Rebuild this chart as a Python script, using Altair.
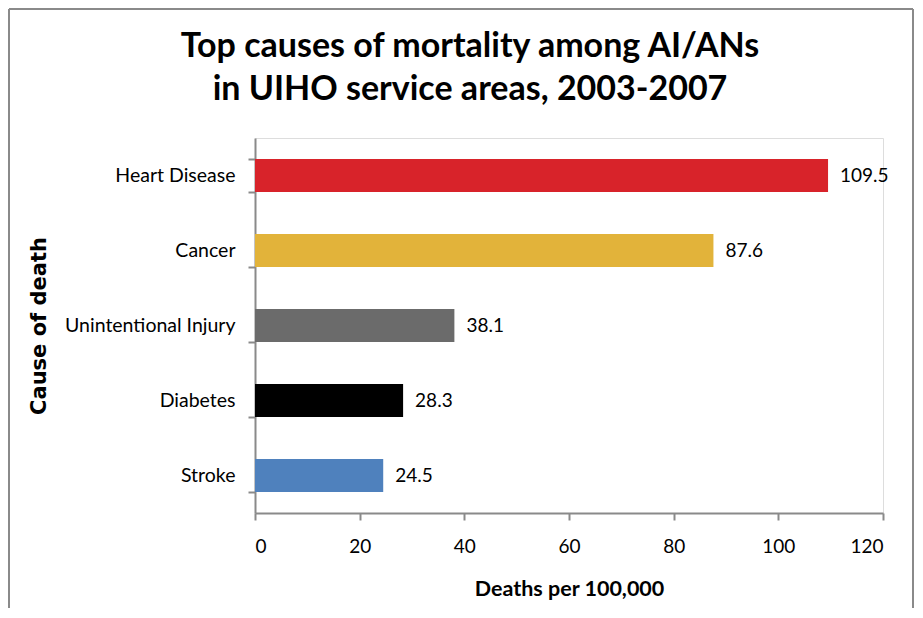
import altair as alt
import pandas as pd

causes = ["Heart Disease", "Cancer", "Unintentional Injury", "Diabetes", "Stroke"]
rates = [109.5, 87.6, 38.1, 28.3, 24.5]
colors = ["#d8232a", "#e2b33a", "#6b6b6b", "#000000", "#4f81bd"]
x_ticks = [0, 20, 40, 60, 80, 100, 120]
title_lines = ["Top causes of mortality among AI/ANs", "in UIHO service areas, 2003-2007"]

df = pd.DataFrame({"cause": causes, "rate": rates, "label": [f"{v:.1f}" for v in rates]})

FONT = "Lato"
GRAY = "#8a8a8a"

y_enc = alt.Y(
    "cause:N",
    sort=causes,
    scale=alt.Scale(paddingInner=0.56, paddingOuter=0.28),
    axis=alt.Axis(
        title="Cause of death",
        titleFont="DejaVu Sans",
        titleFontSize=21,
        titleFontWeight="bold",
        titleColor="#000",
        titlePadding=15,
        labelFont=FONT,
        labelFontSize=19.5,
        labelColor="#000",
        labelPadding=13,
        tickBand="extent",
        tickSize=7,
        tickWidth=2,
        tickColor=GRAY,
        domainColor=GRAY,
        domainWidth=2,
    ),
)

x_enc = alt.X(
    "rate:Q",
    scale=alt.Scale(domain=[0, 120], nice=False),
    axis=alt.Axis(
        title="Deaths per 100,000",
        values=x_ticks,
        titleFont=FONT,
        titleFontSize=21.5,
        titleFontWeight="bold",
        titleColor="#000",
        titlePadding=22,
        labelFont=FONT,
        labelFontSize=19,
        labelColor="#000",
        labelPadding=17,
        tickSize=7,
        tickWidth=2,
        tickColor=GRAY,
        domainColor=GRAY,
        domainWidth=2,
        grid=False,
    ),
)

bars = alt.Chart(df).mark_bar().encode(
    x=x_enc,
    y=y_enc,
    color=alt.Color("cause:N", scale=alt.Scale(domain=causes, range=colors), legend=None),
)

labels = alt.Chart(df).mark_text(
    align="left", baseline="middle", dx=12, font=FONT, fontSize=19, color="#000"
).encode(x="rate:Q", y=alt.Y("cause:N", sort=causes), text="label:N")

t1 = alt.Chart(pd.DataFrame({"t": [title_lines[0]]})).mark_text(
    font=FONT, fontSize=34, fontWeight="bold", color="#000", align="center", baseline="alphabetic"
).encode(x=alt.value(215), y=alt.value(-81), text="t:N")
t2 = alt.Chart(pd.DataFrame({"t": [title_lines[1]]})).mark_text(
    font=FONT, fontSize=34, fontWeight="bold", color="#000", align="center", baseline="alphabetic"
).encode(x=alt.value(215), y=alt.value(-38), text="t:N")

frame = alt.Chart(pd.DataFrame({"k": [0]})).mark_rule(color=GRAY, strokeWidth=2)
border_top = frame.encode(x=alt.value(-246), x2=alt.value(658), y=alt.value(-129))
border_left = frame.encode(x=alt.value(-246), y=alt.value(-129), y2=alt.value(470))
border_right = frame.encode(x=alt.value(658), y=alt.value(-129), y2=alt.value(470))

chart = (
    alt.layer(bars, labels, t1, t2, border_top, border_left, border_right)
    .properties(width=628, height=375, padding=0)
    .configure_view(stroke=None)
    .configure(background="white")
)

chart.save("out.html", embed_options={"renderer": "svg", "actions": False})
